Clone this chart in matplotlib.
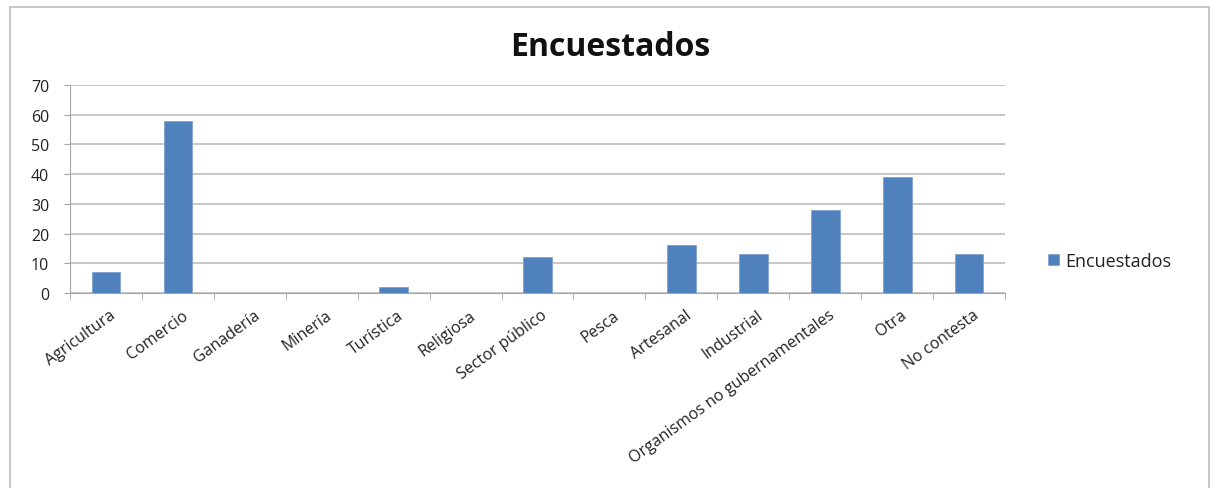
import matplotlib

matplotlib.use("Agg")
import matplotlib.pyplot as plt
import numpy as np
from matplotlib.patches import Rectangle

categories = ["Agricultura", "Comercio", "Ganadería", "Minería", "Turística",
              "Religiosa", "Sector público", "Pesca", "Artesanal", "Industrial",
              "Organismos no gubernamentales", "Otra", "No contesta"]
encuestados = [7, 58, 0, 0, 2, 0, 12, 0, 16, 13, 28, 39, 13]
y_ticks = [0, 10, 20, 30, 40, 50, 60, 70]

BLUE = "#4F81BD"
GRID = "#B8B8B8"
TEXT = "#222222"

plt.rcParams["font.family"] = ["Open Sans", "DejaVu Sans"]

fig = plt.figure(figsize=(12.1, 4.89), dpi=100)
# chart frame like the Excel chart area
fig.patches.append(Rectangle((10 / 1210, -0.05), 1199 / 1210, 1 - 8 / 489 + 0.05,
                             transform=fig.transFigure, fill=False,
                             edgecolor="#BEBEBE", linewidth=1.2))

ax = fig.add_axes([70 / 1210, 1 - 294 / 489, 935 / 1210, 208 / 489])
x = np.arange(len(categories))
ax.bar(x, encuestados, width=0.4, color=BLUE, edgecolor="#7FA3D0",
       linewidth=0.6, label="Encuestados", zorder=3)

ax.set_xlim(-0.5, len(categories) - 0.5)
ax.set_ylim(0, 70)
ax.set_yticks(y_ticks)
ax.yaxis.grid(True, color=GRID, linewidth=1.1, zorder=0)

# the source image is stretched sideways, so the labels sit flatter than 45
ax.set_xticks(x + 0.05)
ax.set_xticklabels(categories, rotation=36, ha="right", rotation_mode="anchor",
                   fontsize=11.5, color=TEXT)
ax.set_xticks(np.arange(len(categories) + 1) - 0.5, minor=True)
ax.tick_params(axis="x", which="major", length=0, pad=10)
ax.tick_params(axis="x", which="minor", length=5, color="#A6A6A6", direction="out")
ax.tick_params(axis="y", length=4, color="#A6A6A6", labelsize=11.5,
               labelcolor=TEXT, pad=11)

for side in ("top", "right"):
    ax.spines[side].set_visible(False)
for side in ("left", "bottom"):
    ax.spines[side].set_color("#A6A6A6")

fig.text(610 / 1210, 1 - 47 / 489, "Encuestados", ha="center", va="center",
         fontsize=23, fontweight="bold", color="#111111")

fig.legend(loc="center left", bbox_to_anchor=(1032 / 1210, 1 - 262 / 489),
           frameon=False, fontsize=13, handlelength=0.6, handleheight=0.6,
           handletextpad=0.35, labelcolor=TEXT)

fig.savefig("out.png", dpi=100)
